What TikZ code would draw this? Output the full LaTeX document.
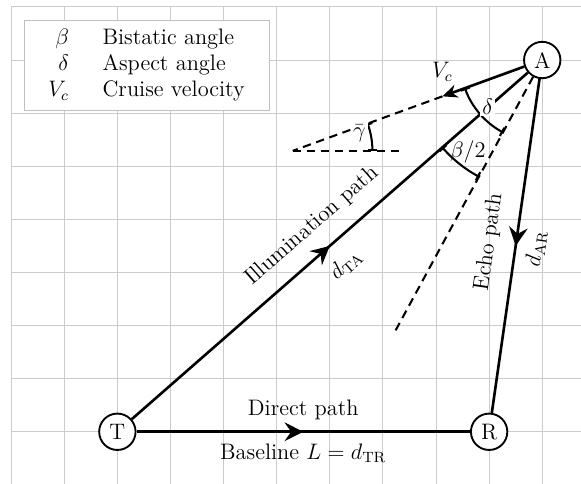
\documentclass[tikz,border=0pt]{standalone}
\usepackage{amsmath, amssymb}
\usepackage{tikz}
\usetikzlibrary{arrows.meta, positioning, calc, decorations.markings}

\begin{document}
\begin{tikzpicture}[font=\large,
	station/.style={circle,draw,line width=1pt,minimum size=19.5pt,inner sep=0pt,fill=white},
	link/.style={line width=1.4pt,postaction={decorate},
		decoration={markings,mark=at position 0.5 with {\arrow{Stealth[length=10pt,width=10pt,inset=3.5pt]}}}},
	guide/.style={line width=1.1pt,dash pattern=on 4.5pt off 3pt},
	angarc/.style={line width=1.1pt,{Bar[width=5pt]}-{Bar[width=5pt]}}]
	\useasboundingbox (-2.21,-0.98) rectangle (8.73,8.13);
	\draw[gray!40,line width=0.5pt] (-2,-0.98) grid (8.73,8);
	
	\node[draw=gray!50,fill=white,inner xsep=7pt] (key) at (0.55,6.9) {\begin{tabular}{r@{\hspace{18pt}}l}
			$\beta$ & Bistatic angle\\
			$\delta$ & Aspect angle\\
			$V_c$ & Cruise velocity
		\end{tabular}};
	
	\node[station] (T) at (0,0) {T};
	\node[station] (R) at (7,0) {R};
	\node[station] (A) at (8,7) {A};
	
	\coordinate (vc) at ($(A)+(200:2)$);
	\coordinate (gam) at ($(A)+(200:5)$);
	\coordinate (hor) at ($(gam)+(2,0)$);
	\coordinate (bis) at ($(A)+(241.53:5.85)$);
	
	\draw[guide] (vc) -- (gam);
	\draw[guide] (gam) -- (hor);
	\draw[guide] (A) -- (bis);
	
	\draw[link] (T) -- (A) node[pos=0.5,sloped,above=5pt] (illum) {Illumination path} node[pos=0.5,sloped,below=4pt] (dta) {$d_{\mathrm{TA}}$};
	\draw[link] (A) -- (R) node[pos=0.5,sloped,above=5pt] (echo) {Echo path} node[pos=0.5,sloped,below=2pt] (dar) {$d_{\mathrm{AR}}$};
	\draw[link] (T) -- (R) node[pos=0.5,above=2.5pt] (direct) {Direct path} node[pos=0.5,below=2.5pt] (base) {Baseline $L=d_{\mathrm{TR}}$};
	
	\draw[line width=1.4pt,-{Stealth[length=8pt,width=7pt,inset=2.5pt]}] (A) -- (vc) node[above=4pt] (vclab) {$V_c$};
	
	\draw[angarc] ($(A)+(200:1.55)$) arc[start angle=200,end angle=241.53,radius=1.55];
	\draw[angarc] ($(A)+(221.19:2.5)$) arc[start angle=221.19,end angle=241.53,radius=2.5];
	\draw[angarc] ($(gam)+(0:1.5)$) arc[start angle=0,end angle=20,radius=1.5];
	
	\node[fill=white,inner sep=1pt] (delta) at ($(A)+(220.4:1.35)$) {$\delta$};
	\node (half) at ($(A)+(230.9:2.22)$) {$\beta/2$};
	\node[fill=white,inner sep=1pt] (gbar) at ($(gam)+(15:1.3)$) {$\bar{\gamma}$};
\end{tikzpicture}
\end{document}
